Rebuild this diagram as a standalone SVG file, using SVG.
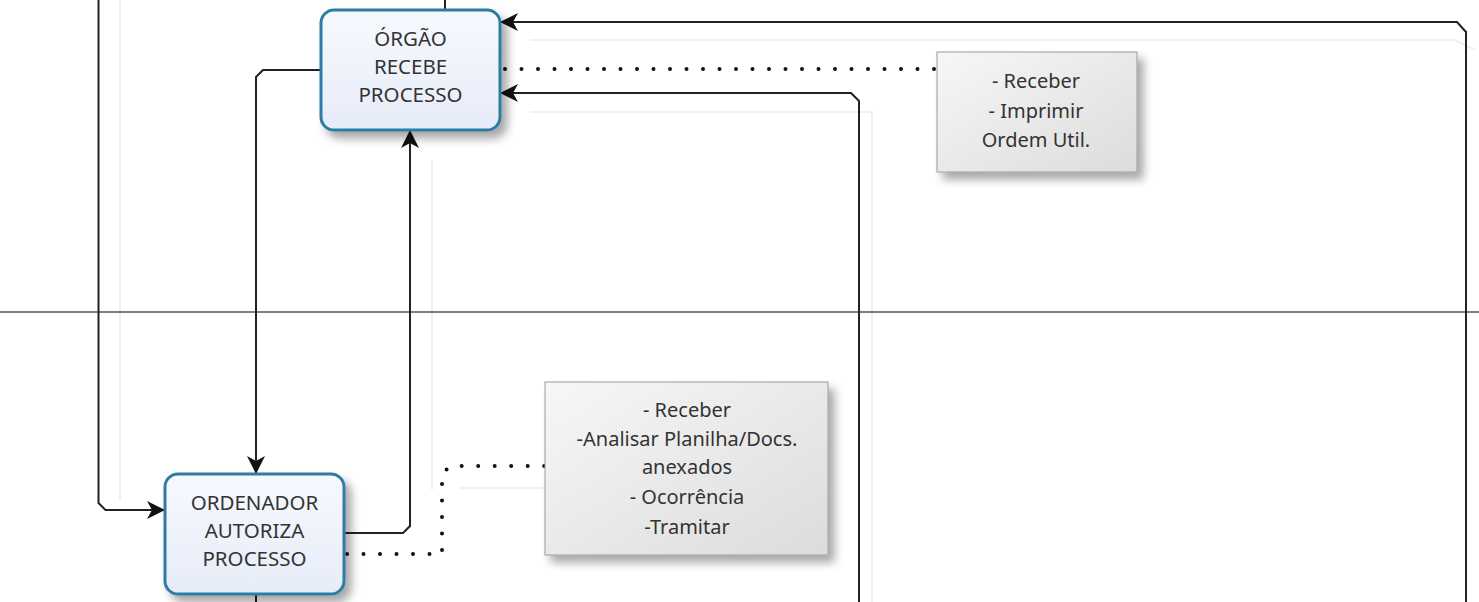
<svg xmlns="http://www.w3.org/2000/svg" width="1479" height="602" viewBox="0 0 1479 602">
<defs>
<linearGradient id="nodeFill" x1="0" y1="0" x2="0" y2="1">
<stop offset="0" stop-color="#f7f9fe"/>
<stop offset="1" stop-color="#e6ecf8"/>
</linearGradient>
<linearGradient id="noteFill" x1="0" y1="0" x2="1" y2="1">
<stop offset="0" stop-color="#f7f7f7"/>
<stop offset="1" stop-color="#dcdcdc"/>
</linearGradient>
<filter id="shadow" x="-20%" y="-20%" width="150%" height="150%">
<feGaussianBlur in="SourceAlpha" stdDeviation="5"/>
<feOffset dx="6" dy="7" result="b"/>
<feComponentTransfer><feFuncA type="linear" slope="0.35"/></feComponentTransfer>
<feMerge><feMergeNode/><feMergeNode in="SourceGraphic"/></feMerge>
</filter>
<marker id="arrow" viewBox="0 0 18 18" refX="17" refY="9" markerWidth="18" markerHeight="18" markerUnits="userSpaceOnUse" orient="auto">
<path d="M0,0 L18,9 L0,18 L5,9 Z" fill="#111"/>
</marker>
</defs>
<style>
.conn{fill:none;stroke:#222;stroke-width:2}
.ghost{fill:none;stroke:#f0f0f0;stroke-width:2}
.dot{fill:none;stroke:#111;stroke-width:4;stroke-linecap:round;stroke-dasharray:0 16.5}
.node rect{fill:url(#nodeFill);stroke:#2f7ca3;stroke-width:3}
.note rect{fill:url(#noteFill);stroke:#9a9a9a;stroke-width:1}
text{font-family:"Noto Sans","DejaVu Sans",sans-serif;fill:#333;text-anchor:middle}
.nt{font-size:20.5px}
.tt{font-size:20px}
</style>
<rect width="1479" height="602" fill="#ffffff"/>
<g id="connectors">
<path class="ghost" d="M120,0 V500"/>
<path class="ghost" d="M530,40 H1455 L1475,50"/>
<path class="ghost" d="M530,112 H872 V602"/>
<path class="ghost" d="M432,160 V490"/>
<path class="ghost" d="M460,488 H545"/>
<line x1="0" y1="312" x2="1479" y2="312" stroke="#555" stroke-width="1.5"/>
<path class="conn" d="M98.5,0 V503 L105.5,510 H164" marker-end="url(#arrow)"/>
<path class="conn" d="M321,70 H263 L256,77 V473" marker-end="url(#arrow)"/>
<path class="conn" d="M345,533 H403 L410,526 V131" marker-end="url(#arrow)"/>
<path class="conn" d="M445,0 V10"/>
<path class="conn" d="M1466,602 V32 L1457,22 H501" marker-end="url(#arrow)"/>
<path class="conn" d="M859,602 V101 L851,93 H501" marker-end="url(#arrow)"/>
<path class="conn" d="M256,595 V602"/>
<path class="dot" d="M505,69 H937"/>
<path class="dot" d="M347,554 H442 V474 L450,466 H545"/>
</g>
<g id="node-orgao" class="node">
<rect x="321" y="10" width="179" height="120" rx="13" filter="url(#shadow)"/>
<text class="nt" x="410.5" y="46">ÓRGÃO</text>
<text class="nt" x="410.5" y="74">RECEBE</text>
<text class="nt" x="410.5" y="102">PROCESSO</text>
</g>
<g id="node-ordenador" class="node">
<rect x="165" y="474" width="179" height="120" rx="13" filter="url(#shadow)"/>
<text class="nt" x="254.5" y="510">ORDENADOR</text>
<text class="nt" x="254.5" y="538">AUTORIZA</text>
<text class="nt" x="254.5" y="566">PROCESSO</text>
</g>
<g id="note-orgao" class="note">
<rect x="937" y="52" width="200" height="120" filter="url(#shadow)"/>
<text class="tt" x="1036" y="88">- Receber</text>
<text class="tt" x="1036" y="118">- Imprimir</text>
<text class="tt" x="1036" y="147">Ordem Util.</text>
</g>
<g id="note-ordenador" class="note">
<rect x="545" y="382" width="283" height="173" filter="url(#shadow)"/>
<text class="tt" x="687" y="417">- Receber</text>
<text class="tt" x="687" y="446">-Analisar Planilha/Docs.</text>
<text class="tt" x="687" y="474">anexados</text>
<text class="tt" x="687" y="504">- Ocorrência</text>
<text class="tt" x="687" y="534">-Tramitar</text>
</g>
</svg>
